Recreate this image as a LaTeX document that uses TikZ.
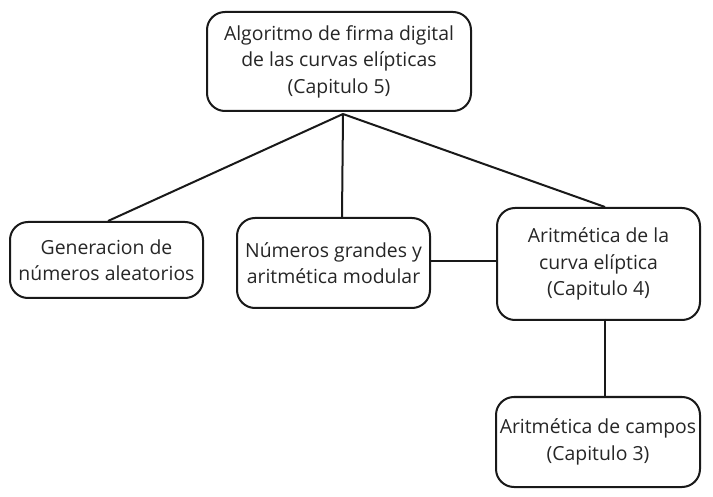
\documentclass[tikz,border=0pt]{standalone}
\usepackage{fontspec}
\setmainfont{Open Sans}
\usetikzlibrary{positioning}
\tikzset{
  % rounded box for each topic
  topic/.style={draw=black!90,line width=2pt,rounded corners=18pt,align=center,
    font=\fontsize{19.4}{26.5}\selectfont,text=black!85,inner sep=0pt},
  link/.style={draw=black!90,line width=2pt},
}
\begin{document}
\begin{tikzpicture}[x=1pt,y=-1pt]
\useasboundingbox (0,0) rectangle (713,497);
\node[topic,minimum width=264pt,minimum height=99pt] (firma) at (339,61.5)
  {Algoritmo de firma digital\\de las curvas elípticas\\(Capitulo 5)};
\node[topic,minimum width=193pt,minimum height=76pt] (aleat) at (106.5,260)
  {Generacion de\\números aleatorios};
\node[topic,minimum width=193pt,minimum height=90pt] (grandes) at (333.5,263)
  {Números grandes y\\aritmética modular};
\node[topic,minimum width=203pt,minimum height=112pt] (curva) at (598.5,264)
  {Aritmética de la\\curva elíptica\\(Capitulo 4)};
\node[topic,minimum width=204pt,minimum height=90pt] (campos) at (598,442)
  {Aritmética de campos\\(Capitulo 3)};
\coordinate (hub) at (343,114);
\draw[link] (hub) -- ([xshift=1.5pt]aleat.north);
\draw[link] (hub) -- ([xshift=8.5pt]grandes.north);
\draw[link] (hub) -- ([xshift=6.5pt]curva.north);
\draw[link] ([yshift=2pt]grandes.east) -- ([yshift=3pt]curva.west);
\draw[link] ([xshift=6.5pt,yshift=2pt]curva.south) -- ([xshift=7pt]campos.north);
\end{tikzpicture}
\end{document}
